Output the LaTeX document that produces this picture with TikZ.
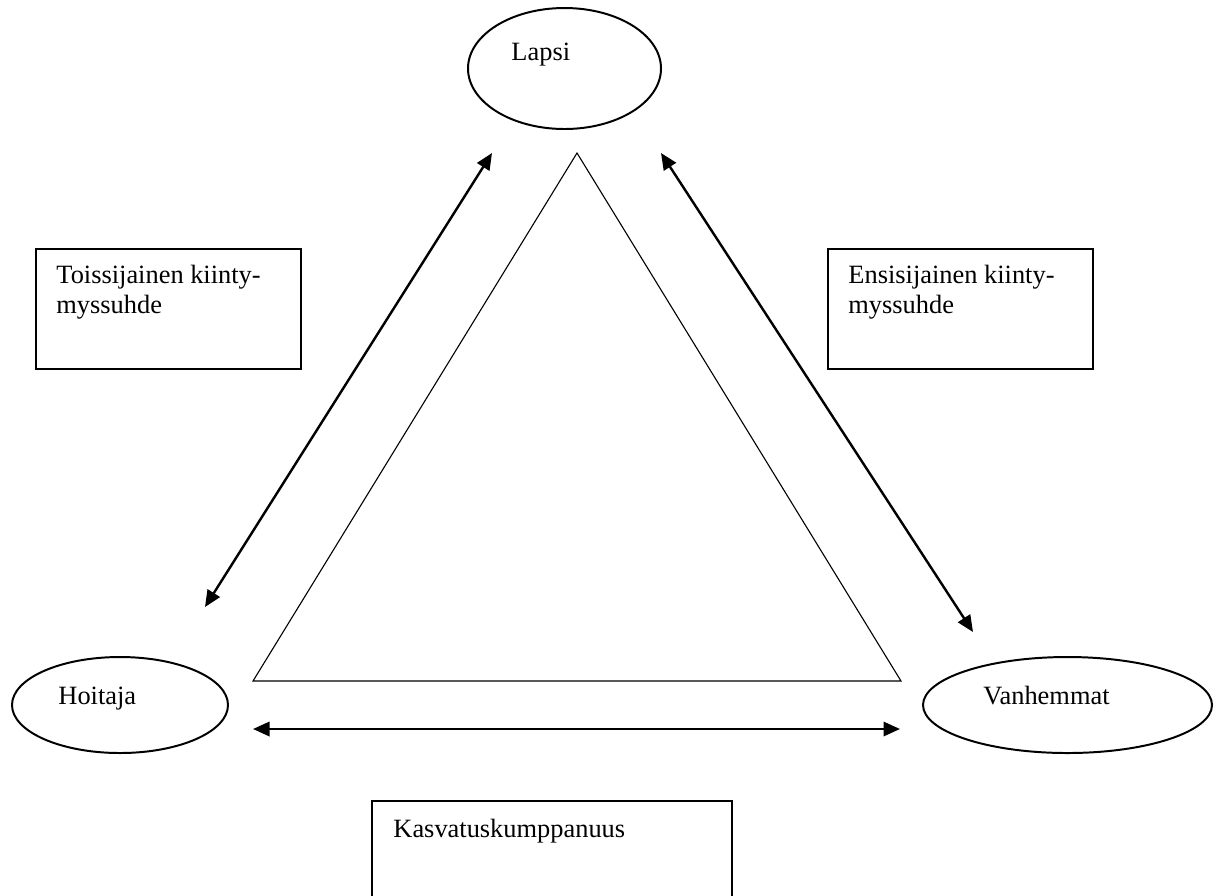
\documentclass[tikz,border=0pt]{standalone}
\usepackage{fontspec}
\setmainfont{Liberation Serif}
\usetikzlibrary{arrows.meta}

\begin{document}
\begin{tikzpicture}[x=0.4545pt,y=-0.4545pt,
  lbl/.style={anchor=base west,inner sep=0pt,font=\fontsize{12}{13.5}\selectfont,align=left},
  twoway/.style={line width=1.1pt,{Triangle[length=7.5pt,width=6.5pt]}-{Triangle[length=7.5pt,width=6.5pt]}}]
\useasboundingbox (0,0) rectangle (1215,895);

%ellipses
\draw[line width=0.9pt] (564.5,68.5) ellipse (96.5 and 60.5);
\draw[line width=0.9pt] (120,705) ellipse (108 and 48);
\draw[line width=0.9pt] (1067.5,705) ellipse (144.5 and 48);

%triangle
\draw[line width=0.5pt] (577,153) -- (253,681) -- (901,681) -- cycle;

%arrow ends
\coordinate (lapsiL) at (492,153);
\coordinate (lapsiR) at (661,153);
\coordinate (hoitajaT) at (205,607);
\coordinate (hoitajaR) at (253,729);
\coordinate (vanhemmatT) at (973,632);
\coordinate (vanhemmatL) at (900,729);

%arrows
\draw[twoway] (lapsiL) -- (hoitajaT);
\draw[twoway] (lapsiR) -- (vanhemmatT);
\draw[twoway] (hoitajaR) -- (vanhemmatL);

%boxes
\draw[line width=0.9pt] (36,249) rectangle (301,369);
\draw[line width=0.9pt] (828,249) rectangle (1093,369);
\draw[line width=0.9pt] (372,900) -- (372,801) -- (732,801) -- (732,900);

%labels
\node[lbl] (lapsi) at (511,60) {Lapsi};
\node[lbl] (hoitaja) at (58,704) {Hoitaja};
\node[lbl] (vanhemmat) at (983,704) {Vanhemmat};
\node[lbl] (toissijainen) at (56,313) {Toissijainen kiinty-\\myssuhde};
\node[lbl] (ensisijainen) at (848,313) {Ensisijainen kiinty-\\myssuhde};
\node[lbl] (kasvatus) at (393,837) {Kasvatuskumppanuus};
\end{tikzpicture}
\end{document}
